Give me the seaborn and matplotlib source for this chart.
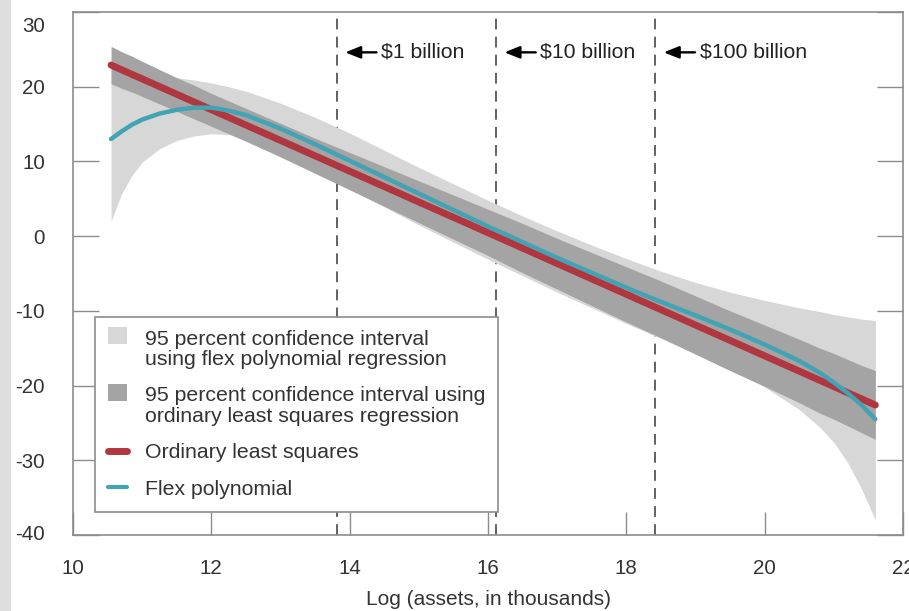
import numpy as np
import pandas as pd
import matplotlib
matplotlib.use("Agg")
import matplotlib.pyplot as plt
import seaborn as sns
from matplotlib.patches import Rectangle, Patch
from matplotlib.lines import Line2D
from matplotlib.legend_handler import HandlerPatch
from matplotlib.transforms import ScaledTranslation

# Log of bank assets (in thousands of dollars)
log_assets = [10.55, 10.7, 10.85, 11.0, 11.25, 11.5, 11.75, 12.0, 12.25, 12.5, 13.0,
              13.5, 14.0, 14.5, 15.0, 15.5, 16.0, 16.5, 17.0, 17.5, 18.0, 18.5,
              19.0, 19.5, 20.0, 20.5, 20.8, 21.0, 21.2, 21.4, 21.6]

# Ordinary least squares fit and its 95 percent confidence interval
ols_fit = [22.9, 22.28, 21.66, 21.05, 20.02, 18.99, 17.96, 16.93, 15.90, 14.87, 12.81,
           10.75, 8.69, 6.63, 4.57, 2.52, 0.46, -1.60, -3.66, -5.72, -7.78, -9.84,
           -11.90, -13.96, -16.02, -18.07, -19.31, -20.13, -20.96, -21.78, -22.60]
ols_ci_upper = [25.4, 24.7, 24.1, 23.4, 22.3, 21.2, 20.2, 19.1, 18.1, 17.1, 15.1,
                13.1, 11.2, 9.3, 7.4, 5.5, 3.6, 1.7, -0.3, -2.2, -4.1, -6.0,
                -8.0, -10.0, -11.9, -13.8, -15.0, -15.7, -16.5, -17.3, -18.0]
ols_ci_lower = [20.4, 19.8, 19.3, 18.7, 17.7, 16.7, 15.7, 14.7, 13.7, 12.7, 10.6,
                8.4, 6.2, 4.0, 1.8, -0.4, -2.6, -4.9, -7.1, -9.3, -11.5, -13.6,
                -15.8, -18.0, -20.1, -22.3, -23.7, -24.5, -25.4, -26.3, -27.2]

# Flexible polynomial fit and its 95 percent confidence interval
flex_fit = [13.0, 14.0, 14.9, 15.6, 16.4, 16.9, 17.2, 17.2, 16.8, 16.2, 14.4,
            12.3, 10.1, 7.9, 5.7, 3.5, 1.3, -0.8, -2.9, -4.9, -6.9, -8.8,
            -10.6, -12.5, -14.5, -16.7, -18.3, -19.6, -21.0, -22.6, -24.5]
flex_ci_upper = [22.3, 22.1, 21.9, 21.8, 21.5, 21.2, 20.9, 20.5, 20.0, 19.4, 17.8,
                 15.9, 13.8, 11.5, 9.2, 7.0, 4.8, 2.7, 0.7, -1.2, -3.0, -4.7,
                 -6.2, -7.5, -8.6, -9.6, -10.1, -10.5, -10.8, -11.1, -11.3]
flex_ci_lower = [2.0, 5.6, 8.1, 9.9, 11.7, 12.8, 13.4, 13.7, 13.6, 13.1, 11.4,
                 9.0, 6.3, 3.9, 1.5, -0.8, -3.1, -5.3, -7.5, -9.6, -11.7, -13.7,
                 -15.7, -17.8, -20.2, -23.2, -25.6, -27.6, -30.3, -33.8, -38.0]

# Asset-size thresholds (in thousands) marked by dashed lines
size_thresholds = [1e6, 1e7, 1e8]
size_labels = ["$1 billion", "$10 billion", "$100 billion"]

x_ticks = [10, 12, 14, 16, 18, 20, 22]
y_ticks = [-40, -30, -20, -10, 0, 10, 20, 30]

legend_labels = [
    "95 percent confidence interval\nusing flex polynomial regression",
    "95 percent confidence interval using\nordinary least squares regression",
    "Ordinary least squares",
    "Flex polynomial",
]

LIGHT = "#d7d7d7"
DARK = "#a4a4a4"
RED = "#b0363f"
TEAL = "#42a3b5"
AXCOL = "#8c8c8c"
TXT = "#333333"

sns.set_theme(style="white")
plt.rcParams["font.family"] = ["Liberation Sans", "DejaVu Sans"]
plt.rcParams["axes.unicode_minus"] = False

fig = plt.figure(figsize=(9.09, 6.11), dpi=100)
fig.patches.append(Rectangle((0, 0), 11 / 909, 1, transform=fig.transFigure,
                             facecolor="#dedede", edgecolor="none", zorder=-5))
ax = fig.add_axes([73 / 909, 76 / 611, 830 / 909, 523 / 611])

df = pd.DataFrame({
    "log_assets": log_assets,
    "ols": ols_fit,
    "flex": flex_fit,
})

# Threshold lines
for t in size_thresholds:
    ax.axvline(np.log(t), color="#555555", lw=1.3, ls=(0, (6, 4)), zorder=1)

# Confidence bands
ax.fill_between(log_assets, flex_ci_lower, flex_ci_upper, color=LIGHT, lw=0, zorder=2)
ax.fill_between(log_assets, ols_ci_lower, ols_ci_upper, color=DARK, lw=0, zorder=3)

# Fitted lines
sns.lineplot(data=df, x="log_assets", y="ols", color=RED, lw=5, ax=ax, zorder=4)
sns.lineplot(data=df, x="log_assets", y="flex", color=TEAL, lw=3.2, ax=ax, zorder=5)

# Threshold annotations
for t, lab in zip(size_thresholds, size_labels):
    xv = np.log(t)
    ax.annotate(lab.replace("$", r"\$"), xy=(xv + 0.12, 24.6), xytext=(xv + 0.64, 24.6),
                ha="left", va="center", fontsize=15.3, color="#222222",
                arrowprops=dict(arrowstyle="-|>,head_length=0.6,head_width=0.24",
                                color="black", lw=1.7, shrinkA=1, shrinkB=0,
                                relpos=(0, 0.5)),
                zorder=6)

ax.set_xlim(10, 22)
ax.set_ylim(-40, 30)
ax.set_xticks(x_ticks)
ax.set_yticks(y_ticks)

for s in ax.spines.values():
    s.set_color(AXCOL)
    s.set_linewidth(1.2)
    s.set_visible(True)

ax.tick_params(axis="y", direction="in", length=19, width=1, color=AXCOL,
               left=True, right=True, labelsize=14.8, labelcolor=TXT, pad=20)
ax.tick_params(axis="x", direction="in", length=16.5, width=1, color=AXCOL,
               bottom=True, top=False, labelsize=14.8, labelcolor=TXT, pad=17)

ax.set_xlabel("Log (assets, in thousands)", fontsize=15, color=TXT, labelpad=9)
ax.set_ylabel("")

# Keep the outermost y labels inside the figure
ylabels = ax.get_yticklabels()
ylabels[-1].set_transform(ylabels[-1].get_transform()
                          + ScaledTranslation(0, -0.13, fig.dpi_scale_trans))
ylabels[0].set_transform(ylabels[0].get_transform()
                         + ScaledTranslation(0, 0.03, fig.dpi_scale_trans))


def top_patch(legend, orig_handle, xdescent, ydescent, width, height, fontsize):
    return Rectangle((-xdescent, -ydescent + 0.65 * fontsize), width, height)


handles = [
    Patch(facecolor=LIGHT, edgecolor="none"),
    Patch(facecolor=DARK, edgecolor="none"),
    Line2D([], [], color=RED, lw=5),
    Line2D([], [], color=TEAL, lw=3),
]
leg = ax.legend(handles, legend_labels, loc="lower left",
                bbox_to_anchor=(22 / 830, 23 / 523), borderaxespad=0,
                fontsize=15.3, frameon=True, fancybox=False, edgecolor=AXCOL,
                framealpha=1, handlelength=0.9, handleheight=0.85,
                handletextpad=0.85, labelspacing=0.8, borderpad=0.6,
                handler_map={Patch: HandlerPatch(patch_func=top_patch)})
leg.get_frame().set_linewidth(1.2)
leg.set_zorder(10)
for txt in leg.get_texts():
    txt.set_color(TXT)
    txt.set_linespacing(1.1)

fig.savefig("out.png", dpi=100)
